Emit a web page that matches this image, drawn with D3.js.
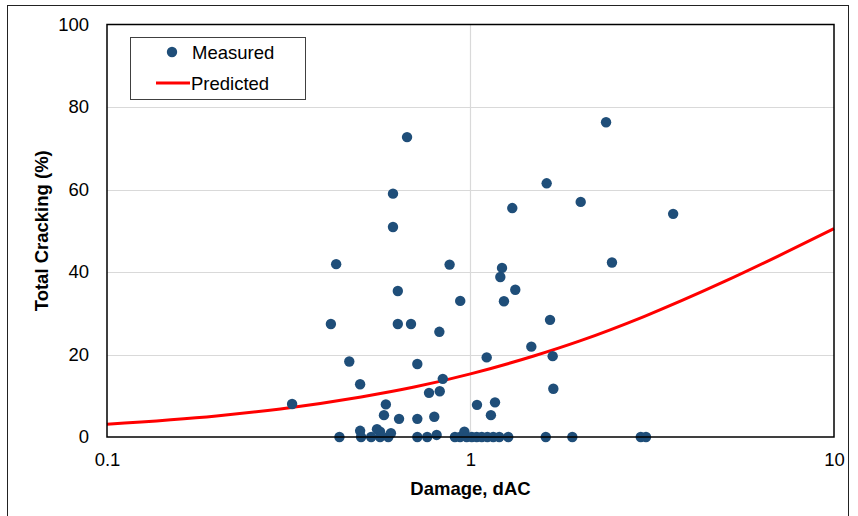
<!DOCTYPE html>
<html>
<head>
<meta charset="utf-8">
<title>Total Cracking vs Damage</title>
<script src="https://d3js.org/d3.v7.min.js"></script>
<style>
  html, body { margin: 0; padding: 0; background: #fff; }
  svg text { font-family: Arial, "Liberation Sans", sans-serif; fill: #000; }
</style>
</head>
<body>
<div id="chart"></div>
<script>
// measured points: damage (dAC) and total cracking (%)
var dacX = [0.323, 0.427, 0.413, 0.464, 0.497, 0.436, 0.497, 0.500, 0.533, 0.553,
            0.564, 0.564, 0.585, 0.578, 0.594, 0.604, 0.612, 0.612, 0.631, 0.631,
            0.636, 0.669, 0.686, 0.714, 0.714, 0.714, 0.760, 0.769, 0.795, 0.807,
            0.821, 0.823, 0.839, 0.876, 0.906, 0.936, 0.937, 0.962, 0.976, 1.008,
            1.042, 1.040, 1.074, 1.108, 1.113, 1.138, 1.155, 1.168, 1.200, 1.208,
            1.221, 1.236, 1.270, 1.303, 1.328, 1.470, 1.611, 1.620, 1.655, 1.683,
            1.690, 1.906, 2.010, 2.360, 2.450, 2.940, 3.040, 3.610];
var crackY = [8.0, 41.9, 27.4, 18.3, 12.8, 0, 1.5, 0, 0, 1.9,
              1.3, 0, 7.9, 5.3, 0, 0.9, 59.0, 50.9, 35.4, 27.4,
              4.4, 72.7, 27.4, 17.7, 4.4, 0, 0, 10.7, 4.9, 0.5,
              25.5, 11.1, 14.1, 41.8, 0, 0, 33.0, 1.3, 0, 0,
              7.8, 0, 0, 19.3, 0, 5.3, 0, 8.4, 0, 38.8,
              41.0, 32.9, 0, 55.5, 35.7, 21.9, 0, 61.5, 28.4, 19.6,
              11.7, 0, 57.0, 76.3, 42.3, 0, 0, 54.1];

// predicted curve
var predX = [0.1, 0.2, 0.3, 0.5, 0.7, 1, 1.5, 2, 3, 5, 7, 10];
var predY = [3.1, 5.1, 6.8, 9.7, 12.1, 15.3, 19.7, 23.3, 29.2, 37.7, 43.8, 50.5];

var xTicks = [0.1, 1, 10];
var yTicks = [0, 20, 40, 60, 80, 100];

var width = 858, height = 516;
var pLeft = 107, pRight = 834, pTop = 24.5, pBottom = 437;

var svg = d3.select("#chart").append("svg")
    .attr("width", width).attr("height", height);

// chart area border
svg.append("rect")
    .attr("x", 7.5).attr("y", 5.5)
    .attr("width", 841).attr("height", 520)
    .attr("fill", "#fff").attr("stroke", "#222").attr("stroke-width", 1);

var x = d3.scaleLog().domain([0.1, 10]).range([pLeft, pRight]);
var y = d3.scaleLinear().domain([0, 100]).range([pBottom, pTop]);

// gridlines
svg.append("g").selectAll("line").data(yTicks.slice(1, -1)).enter()
    .append("line")
    .attr("x1", pLeft).attr("x2", pRight)
    .attr("y1", function(d){ return Math.round(y(d)) + 0.5; })
    .attr("y2", function(d){ return Math.round(y(d)) + 0.5; })
    .attr("stroke", "#d9d9d9").attr("stroke-width", 1.2);

svg.append("g").selectAll("line").data([1]).enter()
    .append("line")
    .attr("y1", pTop).attr("y2", pBottom)
    .attr("x1", function(d){ return Math.round(x(d)) + 0.5; })
    .attr("x2", function(d){ return Math.round(x(d)) + 0.5; })
    .attr("stroke", "#d9d9d9").attr("stroke-width", 1.2);

// axes, labels only
var xAxis = svg.append("g")
    .attr("transform", "translate(0," + pBottom + ")")
    .call(d3.axisBottom(x).tickValues(xTicks).tickFormat(d3.format("")).tickSize(0).tickPadding(16));
xAxis.select(".domain").remove();
xAxis.selectAll("text").style("font-size", "18.5px");

var yAxis = svg.append("g")
    .attr("transform", "translate(" + pLeft + ",0)")
    .call(d3.axisLeft(y).tickValues(yTicks).tickSize(0).tickPadding(18));
yAxis.select(".domain").remove();
yAxis.selectAll("text").style("font-size", "18.5px");

// predicted line
var pred = predX.map(function(d, i){ return [d, predY[i]]; });
var line = d3.line()
    .x(function(d){ return x(d[0]); })
    .y(function(d){ return y(d[1]); })
    .curve(d3.curveMonotoneX);

svg.append("path")
    .datum(pred)
    .attr("d", line)
    .attr("fill", "none")
    .attr("stroke", "#ff0000")
    .attr("stroke-width", 3);

// measured points
var pts = dacX.map(function(d, i){ return [d, crackY[i]]; });
svg.append("g").selectAll("circle").data(pts).enter()
    .append("circle")
    .attr("cx", function(d){ return x(d[0]); })
    .attr("cy", function(d){ return y(d[1]); })
    .attr("r", 5.2)
    .attr("fill", "#1f4e79");

// plot frame
svg.append("rect")
    .attr("x", pLeft).attr("y", pTop)
    .attr("width", pRight - pLeft).attr("height", pBottom - pTop)
    .attr("fill", "none").attr("stroke", "#000").attr("stroke-width", 1.5);

// axis titles
svg.append("text")
    .attr("x", (pLeft + pRight) / 2).attr("y", 495)
    .attr("text-anchor", "middle")
    .style("font-size", "18.5px").style("font-weight", "bold")
    .text("Damage, dAC");

svg.append("text")
    .attr("transform", "translate(48," + ((pTop + pBottom) / 2) + ") rotate(-90)")
    .attr("text-anchor", "middle")
    .style("font-size", "18.5px").style("font-weight", "bold")
    .text("Total Cracking (%)");

// legend
var lg = svg.append("g");
lg.append("rect")
    .attr("x", 130.5).attr("y", 37.5)
    .attr("width", 175).attr("height", 62)
    .attr("fill", "#fff").attr("stroke", "#404040").attr("stroke-width", 1);
lg.append("circle")
    .attr("cx", 172).attr("cy", 52).attr("r", 5.2).attr("fill", "#1f4e79");
lg.append("text")
    .attr("x", 192).attr("y", 59)
    .style("font-size", "18.5px").text("Measured");
lg.append("line")
    .attr("x1", 156).attr("x2", 190).attr("y1", 83).attr("y2", 83)
    .attr("stroke", "#ff0000").attr("stroke-width", 3);
lg.append("text")
    .attr("x", 191).attr("y", 90)
    .style("font-size", "18.5px").text("Predicted");
</script>
</body>
</html>
